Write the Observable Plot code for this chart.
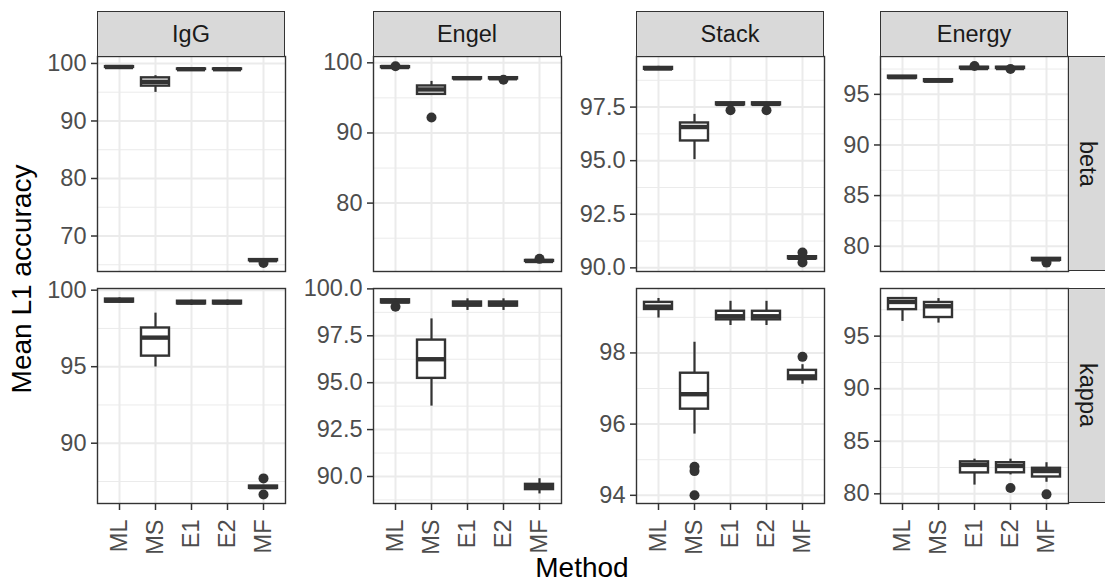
<!DOCTYPE html>
<html>
<head>
<meta charset="utf-8">
<script src="https://cdn.jsdelivr.net/npm/d3@7"></script>
<script src="https://cdn.jsdelivr.net/npm/@observablehq/plot@0.6"></script>
<style>
  body { margin: 0; background: #fff; font-family: "Liberation Sans", Arial, Helvetica, sans-serif; }
  #chart { position: relative; width: 1105px; height: 582px; overflow: hidden; background: #fff; }
  #chart svg { position: absolute; overflow: visible; }
  .strip { position: absolute; background: #d9d9d9; border: 1.4px solid #333; box-sizing: border-box;
           display: flex; align-items: center; justify-content: center; color: #1a1a1a; font-size: 23.5px; }
  .strip.right { border-right: none; }
  .strip.right span { writing-mode: vertical-rl; }
  .title { position: absolute; white-space: nowrap; color: #000; font-size: 28px; line-height: 1; }
</style>
</head>
<body>
<div id="chart"></div>
<script>
// ---- data ----
const methods = ["ML", "MS", "E1", "E2", "MF"];
const datasets = ["IgG", "Engel", "Stack", "Energy"];
const params = ["beta", "kappa"];

// boxplot summaries per method: [lower whisker, Q1, median, Q3, upper whisker]
const IgG_beta = [
  [99.2, 99.3, 99.38, 99.45, 99.5],
  [94.97, 96.06, 96.8, 97.5, 97.87],
  [98.9, 98.95, 99.0, 99.05, 99.1],
  [98.9, 98.95, 99.0, 99.05, 99.1],
  [65.6, 65.7, 65.8, 65.9, 66.0]
];
const Engel_beta = [
  [99.25, 99.3, 99.4, 99.45, 99.55],
  [95.45, 95.5, 96.2, 96.7, 97.35],
  [97.65, 97.7, 97.8, 97.88, 97.95],
  [97.65, 97.7, 97.8, 97.88, 97.95],
  [71.6, 71.68, 71.75, 71.82, 71.9]
];
const Stack_beta = [
  [99.22, 99.26, 99.3, 99.35, 99.4],
  [95.05, 95.92, 96.57, 96.76, 97.16],
  [97.58, 97.6, 97.65, 97.7, 97.72],
  [97.58, 97.6, 97.65, 97.7, 97.72],
  [90.38, 90.42, 90.47, 90.52, 90.56]
];
const Energy_beta = [
  [96.55, 96.6, 96.7, 96.8, 96.85],
  [96.2, 96.25, 96.35, 96.45, 96.5],
  [97.5, 97.55, 97.6, 97.68, 97.75],
  [97.5, 97.55, 97.6, 97.68, 97.75],
  [78.55, 78.6, 78.7, 78.8, 78.85]
];
const IgG_kappa = [
  [99.14, 99.22, 99.32, 99.42, 99.5],
  [94.98, 95.69, 96.9, 97.53, 98.5],
  [99.0, 99.1, 99.2, 99.28, 99.35],
  [99.0, 99.1, 99.2, 99.28, 99.35],
  [87.0, 87.05, 87.13, 87.2, 87.25]
];
const Engel_kappa = [
  [99.2, 99.25, 99.33, 99.42, 99.48],
  [93.75, 95.23, 96.25, 97.27, 98.4],
  [98.85, 99.08, 99.18, 99.3, 99.47],
  [98.85, 99.08, 99.18, 99.3, 99.47],
  [89.07, 89.3, 89.44, 89.58, 89.88]
];
const Stack_kappa = [
  [98.98, 99.22, 99.3, 99.42, 99.53],
  [95.72, 96.42, 96.84, 97.43, 98.3],
  [98.77, 98.93, 99.03, 99.17, 99.45],
  [98.77, 98.93, 99.03, 99.17, 99.45],
  [97.12, 97.25, 97.34, 97.51, 97.67]
];
const Energy_kappa = [
  [96.4, 97.52, 98.25, 98.57, 98.6],
  [96.24, 96.77, 97.84, 98.2, 98.57],
  [80.83, 81.99, 82.75, 83.04, 83.3],
  [81.8, 82.0, 82.65, 82.96, 83.3],
  [81.1, 81.6, 82.17, 82.43, 82.96]
];

// outliers: [method, value]
const IgG_beta_out = [["MF", 65.3]];
const Engel_beta_out = [["ML", 99.5], ["MS", 92.2], ["E2", 97.58], ["MF", 72.05]];
const Stack_beta_out = [["E1", 97.35], ["E2", 97.35], ["MF", 90.72], ["MF", 90.25]];
const Energy_beta_out = [["E1", 97.8], ["E2", 97.5], ["MF", 78.38]];
const IgG_kappa_out = [["MF", 87.7], ["MF", 86.65]];
const Engel_kappa_out = [["ML", 99.05]];
const Stack_kappa_out = [["MS", 94.8], ["MS", 94.68], ["MS", 94.0], ["MF", 97.89]];
const Energy_kappa_out = [["E2", 80.55], ["MF", 79.95]];

// y-axis limits and tick values per panel (beta row then kappa row; IgG, Engel, Stack, Energy)
const yLimits = [
  [63.83, 101.21], [70.25, 100.9], [89.83, 99.86], [77.5, 98.74],
  [86.06, 100.11], [88.56, 100.02], [93.77, 99.81], [79.08, 99.53]
];
const yTicks = [
  [70, 80, 90, 100], [80, 90, 100], [90, 92.5, 95, 97.5], [80, 85, 90, 95],
  [90, 95, 100], [90, 92.5, 95, 97.5, 100], [94, 96, 98], [80, 85, 90, 95]
];

const stats = [IgG_beta, Engel_beta, Stack_beta, Energy_beta, IgG_kappa, Engel_kappa, Stack_kappa, Energy_kappa];
const outs = [IgG_beta_out, Engel_beta_out, Stack_beta_out, Energy_beta_out,
              IgG_kappa_out, Engel_kappa_out, Stack_kappa_out, Energy_kappa_out];

// ---- layout ----
const colLeft = [97, 373, 636, 880];
const rowTop = [56, 288];
const PW = 188, PH = 215, ML = 80, MB = 70;
const FONT = '"Liberation Sans", Arial, Helvetica, sans-serif';
const DARK = "#333333", GRID = "#ebebeb";

const chart = document.getElementById("chart");

function panel(st, out, dom, ticks, showX) {
  const rows = methods.map((m, i) => ({method: m, lo: st[i][0], q1: st[i][1], med: st[i][2], q3: st[i][3], hi: st[i][4]}));
  const pts = out.map(([m, v]) => ({method: m, value: v}));
  const step = ticks[1] - ticks[0];
  const minor = [];
  for (let v = ticks[0] - step / 2 - 10 * step; v <= dom[1]; v += step) if (v >= dom[0]) minor.push(v);
  const dec = ticks.some(t => !Number.isInteger(t));
  const fmt = dec ? d3.format(".1f") : d3.format("d");
  return Plot.plot({
    width: ML + PW,
    height: PH + (showX ? MB : 0),
    marginLeft: ML, marginRight: 0, marginTop: 0, marginBottom: showX ? MB : 0,
    style: {background: "transparent", overflow: "visible", fontFamily: FONT},
    x: {type: "band", domain: methods, paddingInner: 0.23, paddingOuter: 0.215, axis: null},
    y: {domain: dom, axis: null},
    marks: [
      Plot.ruleY(minor, {stroke: GRID, strokeWidth: 1}),
      Plot.ruleY(ticks, {stroke: GRID, strokeWidth: 2}),
      Plot.ruleX(methods, {x: d => d, stroke: GRID, strokeWidth: 2}),
      Plot.ruleX(rows, {x: "method", y1: "lo", y2: "hi", stroke: DARK, strokeWidth: 2.2}),
      Plot.barY(rows, {x: "method", y1: "q1", y2: "q3", fill: "white", stroke: DARK, strokeWidth: 2.4}),
      Plot.tickY(rows, {x: "method", y: "med", stroke: DARK, strokeWidth: 4.4}),
      Plot.dot(pts, {x: "method", y: "value", r: 5, fill: DARK, stroke: null}),
      Plot.frame({stroke: DARK, strokeWidth: 1.4}),
      Plot.axisY(ticks, {tickSize: 6, tickPadding: 5, tickFormat: fmt, fontSize: 23.5, label: null,
                         stroke: DARK, fill: "#4d4d4d", strokeWidth: 1.5}),
      showX ? Plot.axisX({tickSize: 7, tickPadding: 9, tickRotate: -90, fontSize: 23.5, label: null,
                          stroke: DARK, fill: "#4d4d4d", strokeWidth: 1.5}) : null
    ]
  });
}

params.forEach((p, r) => {
  datasets.forEach((ds, c) => {
    const k = r * 4 + c;
    const svg = panel(stats[k], outs[k], yLimits[k], yTicks[k], r === 1);
    svg.style.left = (colLeft[c] - ML) + "px";
    svg.style.top = rowTop[r] + "px";
    chart.appendChild(svg);
  });
});

// top strips
datasets.forEach((ds, c) => {
  const d = document.createElement("div");
  d.className = "strip";
  d.style.left = colLeft[c] + "px";
  d.style.top = "11px";
  d.style.width = PW + "px";
  d.style.height = "46px";
  d.textContent = ds;
  chart.appendChild(d);
});
// right strips
params.forEach((p, r) => {
  const d = document.createElement("div");
  d.className = "strip right";
  d.style.left = (colLeft[3] + PW) + "px";
  d.style.top = rowTop[r] + "px";
  d.style.width = "38px";
  d.style.height = PH + "px";
  const s = document.createElement("span");
  s.textContent = p;
  d.appendChild(s);
  chart.appendChild(d);
});

// axis titles
const yt = document.createElement("div");
yt.className = "title";
yt.textContent = "Mean L1 accuracy";
yt.style.left = "22px";
yt.style.top = "279px";
yt.style.transform = "translate(-50%, -50%) rotate(-90deg)";
chart.appendChild(yt);

const xt = document.createElement("div");
xt.className = "title";
xt.textContent = "Method";
xt.style.left = "582px";
xt.style.top = "568px";
xt.style.transform = "translate(-50%, -50%)";
chart.appendChild(xt);
</script>
</body>
</html>
